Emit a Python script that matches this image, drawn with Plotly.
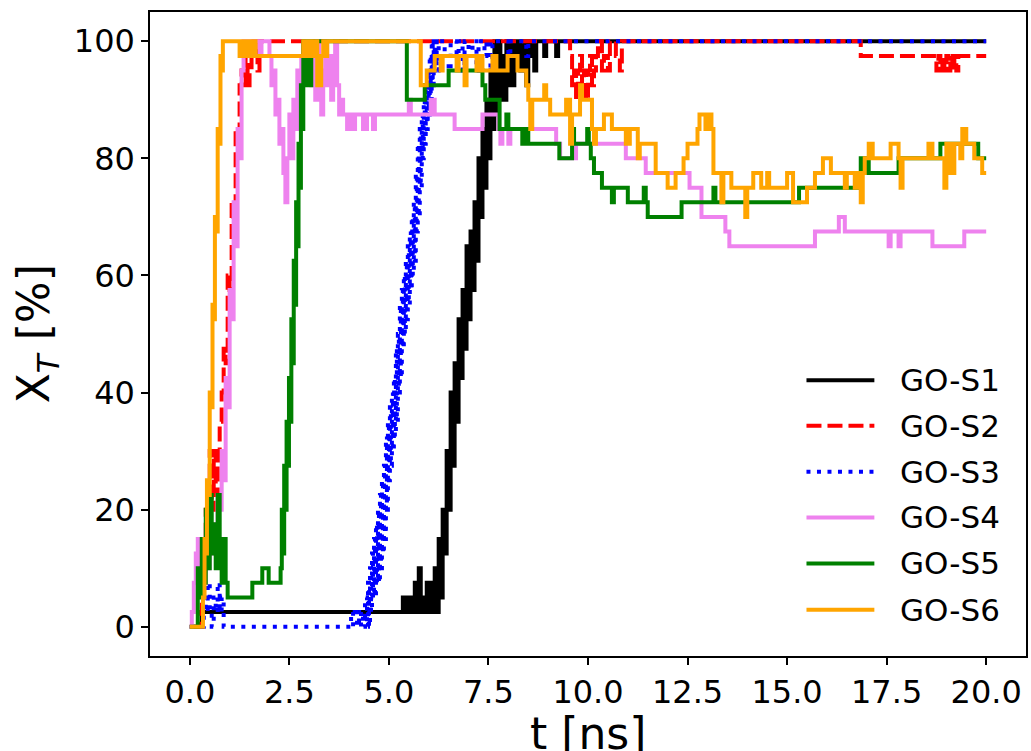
import plotly.graph_objects as go

# ---- data: X_T [%] versus t [ns] for the six GO systems ----
GO_S1_T = [0, 0.3, 5.35, 5.4, 5.5, 5.55, 5.65, 5.7, 5.75, 5.8,
           5.85, 5.9, 5.95, 6.0, 6.05, 6.1, 6.15, 6.2, 6.25, 6.3,
           6.35, 6.4, 6.45, 6.5, 6.55, 6.6, 6.65, 6.7, 6.75, 6.8,
           6.85, 6.9, 6.95, 7.0, 7.05, 7.1, 7.15, 7.2, 7.25, 7.3,
           7.35, 7.4, 7.45, 7.5, 7.55, 7.6, 7.65, 7.7, 7.75, 7.8,
           7.85, 7.9, 7.95, 8.0, 8.05, 8.1, 8.15, 8.2, 8.3, 8.35,
           8.45, 8.5, 8.55, 8.65, 8.7, 8.9, 8.95, 9.2, 9.25, 20.0]
GO_S1_X = [0, 2.5, 5, 2.5, 5, 2.5, 7.5, 2.5, 10, 2.5,
           5, 2.5, 7.5, 2.5, 7.5, 2.5, 10, 2.5, 15, 5,
           20, 12.5, 30, 20, 40, 27.5, 45, 35, 52.5, 42.5,
           57.5, 47.5, 65, 52.5, 67.5, 57.5, 72.5, 62.5, 80, 70,
           85, 75, 90, 80, 95, 85, 100, 87.5, 100, 90,
           97.5, 90, 100, 92.5, 100, 92.5, 97.5, 100, 95, 100,
           92.5, 97.5, 100, 95, 100, 97.5, 100, 97.5, 100, 100]

GO_S2_T = [0, 0.2, 0.25, 0.3, 0.35, 0.4, 0.45, 0.5, 0.55, 0.6,
           0.65, 0.7, 0.75, 0.8, 0.85, 0.9, 0.95, 1.0, 1.05, 1.1,
           1.15, 1.2, 1.25, 1.3, 1.35, 1.4, 1.45, 1.5, 1.55, 1.6,
           1.7, 1.75, 9.55, 9.6, 9.65, 9.7, 9.75, 9.8, 9.85, 9.9,
           9.95, 10.0, 10.05, 10.1, 10.15, 10.2, 10.25, 10.35, 10.4, 10.5,
           10.55, 10.7, 10.8, 10.85, 16.85, 18.75, 18.8, 18.85, 18.9, 18.95,
           19.0, 19.05, 19.1, 19.15, 19.2, 19.25, 19.3, 20.0]
GO_S2_X = [0, 0, 2.5, 7.5, 12.5, 20, 25, 30, 20, 30,
           22.5, 27.5, 35, 40, 47.5, 45, 60, 57.5, 72.5, 70,
           85, 82.5, 92.5, 95, 92.5, 97.5, 92.5, 95, 97.5, 100,
           95, 100, 97.5, 92.5, 95, 90, 95, 97.5, 92.5, 95,
           90, 95, 97.5, 92.5, 95, 97.5, 100, 95, 97.5, 95,
           100, 97.5, 95, 100, 97.5, 95, 97.5, 95, 97.5, 95,
           97.5, 95, 97.5, 95, 97.5, 95, 97.5, 97.5]

GO_S3_T = [0, 0.3, 0.35, 0.4, 0.45, 0.5, 0.55, 0.6, 0.65, 0.7,
           0.75, 0.8, 0.85, 4.0, 4.05, 4.1, 4.2, 4.25, 4.3, 4.35,
           4.4, 4.45, 4.475, 4.5, 4.525, 4.55, 4.575, 4.6, 4.625, 4.65,
           4.675, 4.7, 4.725, 4.75, 4.775, 4.8, 4.825, 4.85, 4.875, 4.9,
           4.925, 4.95, 4.975, 5.0, 5.025, 5.05, 5.075, 5.1, 5.125, 5.15,
           5.175, 5.2, 5.225, 5.25, 5.275, 5.3, 5.325, 5.35, 5.375, 5.4,
           5.425, 5.45, 5.475, 5.5, 5.525, 5.55, 5.575, 5.6, 5.625, 5.65,
           5.675, 5.7, 5.725, 5.75, 5.775, 5.8, 5.825, 5.85, 5.875, 5.9,
           5.925, 5.95, 5.975, 6.0, 6.025, 6.05, 6.075, 6.1, 6.125, 6.15,
           6.175, 6.2, 6.25, 6.4, 6.5, 6.55, 6.7, 6.75, 6.85, 6.9,
           7.0, 7.1, 7.2, 7.25, 7.4, 7.45, 7.55, 7.6, 8.0, 8.05,
           8.45, 8.5, 20.0]
GO_S3_X = [0, 0, 5, 2.5, 7.5, 2.5, 0, 5, 2.5, 7.5,
           2.5, 5, 0, 0, 2.5, 0, 2.5, 0, 2.5, 0,
           5, 0, 7.5, 0, 10, 2.5, 12.5, 5, 15, 5,
           17.5, 7.5, 20, 7.5, 22.5, 10, 25, 12.5, 27.5, 15,
           32.5, 20, 35, 25, 37.5, 27.5, 40, 30, 42.5, 32.5,
           47.5, 35, 50, 40, 55, 42.5, 57.5, 47.5, 60, 50,
           62.5, 52.5, 65, 55, 67.5, 57.5, 70, 60, 72.5, 62.5,
           77.5, 67.5, 82.5, 70, 85, 75, 87.5, 80, 90, 82.5,
           92.5, 85, 95, 87.5, 97.5, 90, 100, 92.5, 100, 95,
           100, 95, 100, 97.5, 95, 100, 97.5, 100, 95, 100,
           97.5, 100, 95, 100, 97.5, 100, 95, 100, 97.5, 100,
           97.5, 100, 100]

GO_S4_T = [0, 0.05, 0.1, 0.15, 0.2, 0.25, 0.3, 0.35, 0.4, 0.45,
           0.5, 0.55, 0.6, 0.65, 0.7, 0.75, 0.8, 0.85, 0.9, 0.95,
           1.0, 1.05, 1.1, 1.15, 1.2, 1.25, 1.3, 1.35, 1.5, 1.55,
           1.75, 1.8, 2.0, 2.05, 2.1, 2.15, 2.2, 2.25, 2.3, 2.35,
           2.4, 2.45, 2.5, 2.55, 2.6, 2.65, 2.7, 2.75, 2.8, 2.85,
           2.95, 3.0, 3.05, 3.1, 3.15, 3.2, 3.25, 3.3, 3.35, 3.4,
           3.45, 3.5, 3.55, 3.6, 3.65, 3.7, 3.75, 3.8, 3.85, 3.95,
           4.0, 4.1, 4.15, 4.35, 4.45, 4.6, 4.65, 5.5, 5.55, 6.05,
           6.15, 6.65, 7.35, 7.75, 7.8, 7.85, 8.0, 8.05, 9.2, 9.3,
           9.7, 10.95, 11.45, 12.55, 12.85, 13.45, 13.55, 15.7, 16.3, 16.45,
           17.55, 17.6, 17.8, 17.85, 18.65, 19.45, 20.0]
GO_S4_X = [0, 2.5, 7.5, 12.5, 15, 10, 12.5, 7.5, 12.5, 10,
           15, 12.5, 17.5, 15, 22.5, 20, 30, 25, 42.5, 37.5,
           57.5, 52.5, 72.5, 65, 85, 80, 95, 100, 97.5, 100,
           97.5, 100, 97.5, 92.5, 95, 87.5, 90, 82.5, 85, 77.5,
           72.5, 80, 87.5, 80, 90, 85, 95, 92.5, 97.5, 100,
           95, 100, 92.5, 97.5, 90, 100, 92.5, 87.5, 95, 100,
           92.5, 97.5, 90, 95, 100, 92.5, 87.5, 90, 87.5, 85,
           87.5, 85, 87.5, 85, 87.5, 85, 87.5, 90, 87.5, 90,
           87.5, 85, 87.5, 85, 82.5, 85, 82.5, 85, 82.5, 80,
           82.5, 80, 77.5, 75, 70, 67.5, 65, 67.5, 70, 67.5,
           65, 67.5, 65, 67.5, 65, 67.5, 67.5]

GO_S5_T = [0, 0.15, 0.2, 0.25, 0.3, 0.35, 0.4, 0.45, 0.5, 0.55,
           0.6, 0.65, 0.7, 0.75, 0.8, 0.85, 0.9, 0.95, 1.57, 1.82,
           1.98, 2.28, 2.31, 2.34, 2.37, 2.4, 2.43, 2.46, 2.49, 2.52,
           2.55, 2.58, 2.61, 2.64, 2.67, 2.7, 2.73, 2.76, 2.79, 2.82,
           2.85, 2.9, 2.95, 3.0, 3.05, 3.1, 5.45, 5.9, 6.5, 7.35,
           7.42, 7.78, 7.95, 8.0, 8.35, 8.45, 8.5, 9.28, 9.6, 9.65,
           9.98, 10.02, 10.07, 10.15, 10.35, 10.6, 10.65, 11.0, 11.4, 11.45,
           11.5, 12.35, 13.15, 13.2, 15.3, 16.8, 16.85, 16.9, 17.0, 17.05,
           17.8, 18.85, 19.8, 20.0]
GO_S5_X = [0, 0, 10, 5, 15, 7.5, 20, 10, 22.5, 12.5,
           17.5, 10, 22.5, 12.5, 7.5, 15, 7.5, 5, 7.5, 10,
           7.5, 10, 20, 12.5, 27.5, 20, 35, 27.5, 42.5, 35,
           52.5, 45, 62.5, 55, 72.5, 65, 82.5, 75, 92.5, 85,
           100, 92.5, 100, 92.5, 97.5, 100, 90, 92.5, 95, 92.5,
           90, 85, 87.5, 85, 82.5, 85, 82.5, 80, 85, 82.5,
           85, 82.5, 80, 77.5, 75, 72.5, 75, 72.5, 75, 72.5,
           70, 72.5, 75, 72.5, 75, 77.5, 80, 77.5, 80, 77.5,
           80, 82.5, 80, 80]

GO_S6_T = [0, 0.3, 0.33, 0.37, 0.4, 0.43, 0.46, 0.5, 0.53, 0.57,
           0.6, 0.63, 0.67, 0.7, 0.73, 0.77, 0.8, 0.83, 1.25, 1.3,
           1.35, 1.4, 1.45, 1.5, 1.55, 1.6, 1.65, 2.85, 2.9, 2.95,
           3.0, 3.05, 3.1, 3.15, 3.2, 3.3, 3.35, 3.4, 3.45, 5.8,
           5.95, 6.15, 6.3, 6.35, 6.7, 6.75, 6.9, 6.95, 7.2, 7.25,
           7.35, 7.6, 7.7, 7.98, 8.23, 8.45, 8.5, 8.55, 8.6, 8.9,
           8.95, 9.05, 9.45, 9.55, 9.6, 9.8, 9.85, 10.1, 10.15, 10.2,
           10.4, 10.6, 10.95, 11.05, 11.25, 11.3, 11.7, 12.0, 12.2, 12.4,
           12.5, 12.75, 12.8, 12.95, 13.0, 13.1, 13.15, 13.35, 13.4, 13.6,
           13.95, 14.0, 14.15, 14.35, 14.5, 14.55, 15.0, 15.15, 15.5, 15.7,
           15.9, 16.1, 16.45, 16.5, 16.7, 16.75, 16.85, 16.9, 16.95, 17.05,
           17.15, 17.6, 17.8, 17.85, 17.9, 18.55, 18.65, 18.95, 19.0, 19.1,
           19.2, 19.35, 19.4, 19.5, 19.7, 19.9, 20.0]
GO_S6_X = [0, 0, 5, 15, 12.5, 25, 22.5, 40, 37.5, 55,
           52.5, 70, 67.5, 85, 82.5, 97.5, 95, 100, 97.5, 100,
           97.5, 100, 97.5, 100, 97.5, 100, 97.5, 100, 97.5, 100,
           97.5, 100, 97.5, 100, 92.5, 97.5, 100, 97.5, 100, 92.5,
           95, 97.5, 95, 97.5, 95, 97.5, 92.5, 97.5, 95, 97.5,
           95, 97.5, 95, 97.5, 95, 92.5, 90, 85, 90, 92.5,
           90, 87.5, 90, 82.5, 87.5, 92.5, 90, 85, 82.5, 85,
           87.5, 85, 82.5, 85, 80, 82.5, 77.5, 75, 77.5, 80,
           82.5, 85, 87.5, 85, 87.5, 85, 77.5, 72.5, 77.5, 75,
           70, 75, 77.5, 75, 77.5, 75, 77.5, 72.5, 75, 77.5,
           80, 77.5, 75, 77.5, 75, 77.5, 72.5, 77.5, 80, 82.5,
           80, 82.5, 80, 75, 80, 82.5, 80, 75, 82.5, 77.5,
           82.5, 80, 85, 82.5, 80, 77.5, 77.5]

SERIES_NAMES = ["GO-S1", "GO-S2", "GO-S3", "GO-S4", "GO-S5", "GO-S6"]
X_TICKS = [0, 2.5, 5, 7.5, 10, 12.5, 15, 17.5, 20]
Y_TICKS = [0, 20, 40, 60, 80, 100]

# ---- styling ----
COLORS = ["#000000", "#ff0000", "#0000ff", "#ee82ee", "#008000", "#ffa500"]
DASHES = ["solid", "15px,6px", "4px,6.5px", "solid", "solid", "solid"]
LINE_W = 4
FONT = "DejaVu Sans"

series = [(GO_S1_T, GO_S1_X), (GO_S2_T, GO_S2_X), (GO_S3_T, GO_S3_X),
          (GO_S4_T, GO_S4_X), (GO_S5_T, GO_S5_X), (GO_S6_T, GO_S6_X)]

fig = go.Figure()
for name, (t, x), color, dash in zip(SERIES_NAMES, series, COLORS, DASHES):
    assert len(t) == len(x), name
    fig.add_trace(go.Scatter(
        x=t, y=x, mode="lines", name=name, line_shape="hv",
        line=dict(color=color, width=LINE_W, dash=dash),
        showlegend=False,
    ))

# ---- legend drawn as line samples + labels on the right side ----
legend_y = [0.4283, 0.3574, 0.2860, 0.2151, 0.1437, 0.0718]
shapes = []
annotations = []
for name, color, dash, ly in zip(SERIES_NAMES, COLORS, DASHES, legend_y):
    shapes.append(dict(type="line", xref="paper", yref="paper",
                       x0=0.7494, x1=0.8269, y0=ly, y1=ly,
                       line=dict(color=color, width=LINE_W, dash=dash)))
    annotations.append(dict(text=name, xref="paper", yref="paper",
                            x=0.8542, y=ly, xanchor="left", yanchor="middle",
                            showarrow=False,
                            font=dict(family=FONT, size=31, color="black")))

# axis titles
annotations.append(dict(text="t [ns]", xref="paper", yref="paper",
                        x=0.5, y=-0.121, xanchor="center", yanchor="middle",
                        showarrow=False,
                        font=dict(family=FONT, size=44, color="black")))
annotations.append(dict(text="X<sub><i>T</i></sub> [%]", xref="paper", yref="paper",
                        x=-0.1298, y=0.5, xanchor="center", yanchor="middle",
                        textangle=-90, showarrow=False,
                        font=dict(family=FONT, size=44, color="black")))

axis_common = dict(
    showline=True, linecolor="black", linewidth=1.5, mirror=True,
    ticks="outside", ticklen=7, tickwidth=1.5, tickcolor="black",
    showgrid=False, zeroline=False,
    tickfont=dict(family=FONT, size=32, color="black"),
)

fig.update_layout(
    width=1031, height=751,
    margin=dict(l=150, r=3, t=12, b=95),
    paper_bgcolor="white", plot_bgcolor="white",
    xaxis=dict(range=[-1, 21], tickvals=X_TICKS, tickformat=".1f", **axis_common),
    yaxis=dict(range=[-5, 105], tickvals=Y_TICKS, **axis_common),
    shapes=shapes,
    annotations=annotations,
    showlegend=False,
)

fig.write_html("out.html")
